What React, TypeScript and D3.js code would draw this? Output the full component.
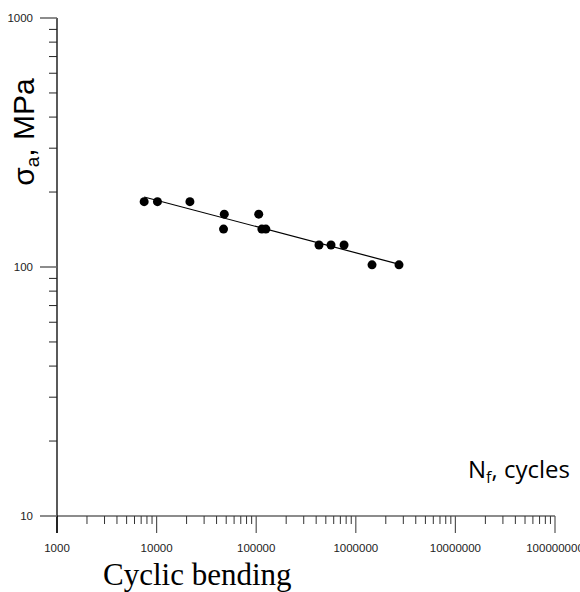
import React from "react";
import * as d3 from "d3";

const cycles = [7500, 10200, 21600, 47800, 47000, 106000, 114000, 125000, 427000, 564000, 762000, 1455000, 2715000];
const stress = [183, 183, 183, 163, 142, 163, 142, 142, 122.6, 122.6, 122.6, 102, 102];
const fitCycles = [7500, 2750000];
const fitStress = [191, 102.5];
const xTickValues = [1e3, 1e4, 1e5, 1e6, 1e7, 1e8];
const xTickLabels = ["1000", "10000", "100000", "1000000", "10000000", "100000000"];
const yTickValues = [10, 100, 1000];
const yTickLabels = ["10", "100", "1000"];

const W = 580;
const H = 592;

export default function App() {
  const x = d3.scaleLog().domain([1e3, 1e8]).range([57, 555]);
  const y = d3.scaleLog().domain([10, 1000]).range([516, 18]);

  const xMinor: number[] = [];
  for (let d = 1e3; d < 1e8; d *= 10) for (let m = 2; m <= 9; m++) xMinor.push(d * m);
  const yMinor: number[] = [];
  for (let d = 10; d < 1000; d *= 10) for (let m = 2; m <= 9; m++) yMinor.push(d * m);

  const line = d3
    .line<number>()
    .x((_, i) => x(fitCycles[i]))
    .y((_, i) => y(fitStress[i]));

  const tickFont = "'Liberation Sans', Arial, sans-serif";

  return (
    <svg
      width={W}
      height={H}
      style={{ position: "absolute", left: 0, top: 0, background: "#fff" }}
    >
      <rect width={W} height={H} fill="#fff" />
      {/* x axis */}
      <line x1={x(1e3)} x2={x(1e8)} y1={516} y2={516} stroke="#666" strokeWidth={1.5} />
      {xMinor.map((v, i) => (
        <line key={"xm" + i} x1={x(v)} x2={x(v)} y1={516} y2={524} stroke="#333" strokeWidth={1} />
      ))}
      {xTickValues.map((v, i) => (
        <g key={"xt" + i}>
          <line x1={x(v)} x2={x(v)} y1={516} y2={533} stroke={i === 0 ? "#000" : "#555"} strokeWidth={1.2} />
          <text x={x(v)} y={552} textAnchor="middle" fontFamily={tickFont} fontSize={11.5} fill="#222">
            {xTickLabels[i]}
          </text>
        </g>
      ))}
      {/* y axis */}
      <line x1={57} x2={57} y1={y(1000)} y2={533} stroke="#000" strokeWidth={1.3} />
      {yMinor.map((v, i) => (
        <line key={"ym" + i} x1={49} x2={57} y1={y(v)} y2={y(v)} stroke="#222" strokeWidth={1} />
      ))}
      {yTickValues.map((v, i) => (
        <g key={"yt" + i}>
          <line x1={40} x2={57} y1={y(v)} y2={y(v)} stroke="#666" strokeWidth={1.5} />
          <text x={33} y={y(v) + 4} textAnchor="end" fontFamily={tickFont} fontSize={11.5} fill="#222">
            {yTickLabels[i]}
          </text>
        </g>
      ))}
      {/* fit line */}
      <path d={line(fitCycles) || ""} fill="none" stroke="#000" strokeWidth={1.2} />
      {/* points */}
      {cycles.map((c, i) => (
        <circle key={"p" + i} cx={x(c)} cy={y(stress[i])} r={4.5} fill="#000" />
      ))}
      {/* y label */}
      <text
        transform={`translate(34,132) rotate(-90)`}
        textAnchor="middle"
        fontFamily={tickFont}
        fontSize={30}
        fill="#000"
      >
        σ<tspan fontSize={19} dy={5}>a</tspan>
        <tspan dy={-5}>, MPa</tspan>
      </text>
      {/* N_f label */}
      <text x={468} y={478} fontFamily="'Open Sans', sans-serif" fontSize={24} fill="#000">
        N<tspan fontSize={16} dy={5}>f</tspan>
        <tspan dy={-5}>, cycles</tspan>
      </text>
      {/* bottom title */}
      <text x={103} y={585} fontFamily="'Liberation Serif', 'Times New Roman', serif" fontSize={31} fill="#000">
        Cyclic bending
      </text>
    </svg>
  );
}
